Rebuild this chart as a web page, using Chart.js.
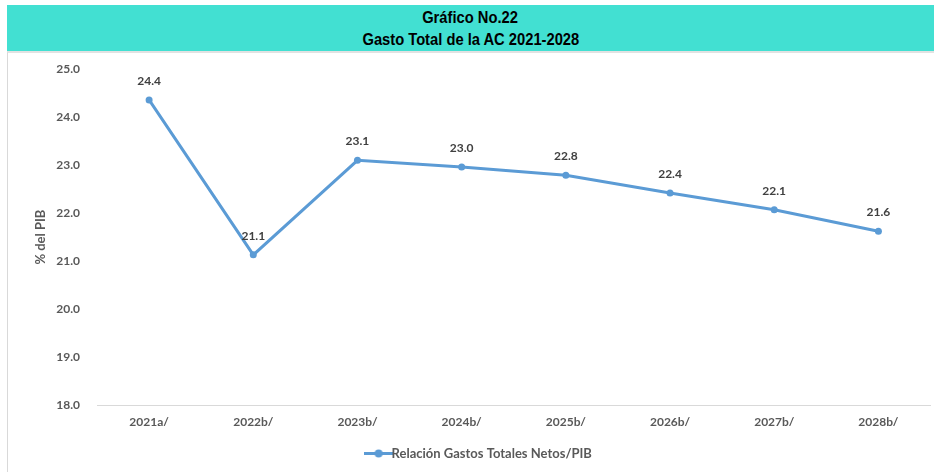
<!DOCTYPE html>
<html>
<head>
<meta charset="utf-8">
<script src="https://cdn.jsdelivr.net/npm/chart.js@4.4.1/dist/chart.umd.min.js"></script>
<style>
  html, body { margin: 0; padding: 0; background: #fff; }
  #wrap { position: relative; width: 934px; height: 472px; overflow: hidden; }
  #banda {
    position: absolute; left: 7px; top: 5px; width: 927px; height: 46px;
    background: #42e0d2; text-align: center; color: #000;
    font-family: "Liberation Sans", Arial, sans-serif;
    font-weight: bold; font-size: 16px; line-height: 22px; padding-top: 2px; box-sizing: border-box;
  }
  #banda span { display: inline-block; transform: scaleX(0.92); }
  #marco {
    position: absolute; left: 7px; top: 51px; width: 927px; height: 421px;
    border-left: 1px solid #d9d9d9; border-top: 2px solid #e2e2e2; box-sizing: border-box;
  }
  #lienzo { position: absolute; left: 8px; top: 45px; width: 926px; height: 427px; }
  #lienzo canvas { display: block; }
</style>
</head>
<body>
<div id="wrap">
  <div id="banda"><span>Gráfico No.22</span><br><span>Gasto Total de la AC 2021-2028</span></div>
  <div id="marco"></div>
  <div id="lienzo"><canvas id="mycanvas" width="926" height="427"></canvas></div>
</div>
<script>
// datos
const anios = ['2021a/', '2022b/', '2023b/', '2024b/', '2025b/', '2026b/', '2027b/', '2028b/'];
const gastoPib = [24.36, 21.13, 23.1, 22.96, 22.79, 22.42, 22.07, 21.62];
const serieNombre = 'Relación Gastos Totales Netos/PIB';
const ejeY = { min: 18, max: 25, paso: 1 };

const azul = '#5b9bd5';
const gris = '#595959';
const fuente = 'Lato, "Open Sans", sans-serif';

// icono de la leyenda: linea con punto
function iconoLeyenda() {
  var c = document.createElement('canvas');
  c.width = 30; c.height = 9;
  var ctx = c.getContext('2d');
  ctx.strokeStyle = azul; ctx.lineWidth = 3;
  ctx.beginPath(); ctx.moveTo(0, 4.5); ctx.lineTo(30, 4.5); ctx.stroke();
  ctx.fillStyle = azul;
  ctx.beginPath(); ctx.arc(15, 4.5, 4, 0, Math.PI * 2); ctx.fill();
  return c;
}

// etiquetas de valor encima de cada punto
const etiquetas = {
  id: 'etiquetas',
  afterDatasetsDraw: function (chart) {
    var ctx = chart.ctx;
    var meta = chart.getDatasetMeta(0);
    ctx.save();
    ctx.font = 'bold 12px ' + fuente;
    ctx.fillStyle = '#404040';
    ctx.textAlign = 'center';
    ctx.textBaseline = 'middle';
    meta.data.forEach(function (pt, i) {
      ctx.fillText(chart.data.datasets[0].data[i].toFixed(1), pt.x, pt.y - 19);
    });
    ctx.restore();
  }
};

var data = {
  labels: anios,
  datasets: [{
    label: serieNombre,
    data: gastoPib,
    borderColor: azul,
    backgroundColor: azul,
    borderWidth: 3,
    pointRadius: 3.5,
    pointHoverRadius: 3.5,
    pointBackgroundColor: azul,
    pointBorderWidth: 0,
    tension: 0,
    pointStyle: 'circle'
  }]
};

const config = {
  type: 'line',
  data: data,
  plugins: [etiquetas],
  options: {
    responsive: false,
    animation: false,
    layout: { padding: { left: 25, right: 3, top: 7, bottom: 2 } },
    plugins: {
      legend: {
        display: true,
        position: 'bottom',
        labels: {
          usePointStyle: true,
          pointStyle: iconoLeyenda(),
          color: gris,
          font: { family: fuente, size: 13, weight: 'bold' },
          padding: 10
        }
      },
      tooltip: { enabled: false }
    },
    scales: {
      x: {
        offset: true,
        grid: { display: false, drawTicks: false },
        border: { display: true, color: '#d9d9d9', width: 1 },
        ticks: { color: gris, font: { family: fuente, size: 12, weight: 'bold' }, padding: 10 },
        afterFit: function (s) { s.height = 32; }
      },
      y: {
        min: ejeY.min,
        max: ejeY.max,
        grid: { display: false, drawTicks: false },
        border: { display: false },
        ticks: {
          stepSize: ejeY.paso,
          color: gris,
          padding: 17,
          font: { family: fuente, size: 12, weight: 'bold' },
          callback: function (v) { return Number(v).toFixed(1); }
        },
        title: {
          display: true,
          text: '% del PIB',
          color: gris,
          font: { family: fuente, size: 13, weight: 'bold' },
          padding: 0
        },
        afterFit: function (s) { s.width = 64; }
      }
    }
  }
};

var myChart = new Chart(document.getElementById('mycanvas'), config);
</script>
</body>
</html>
